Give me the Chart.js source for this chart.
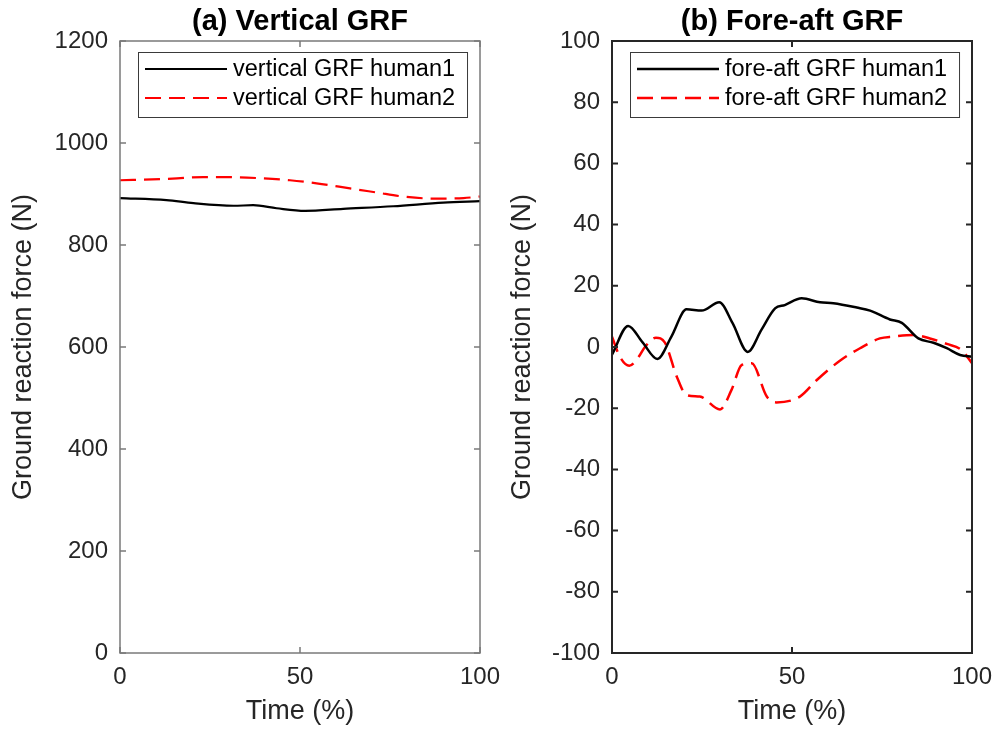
<!DOCTYPE html>
<html>
<head>
<meta charset="utf-8" />
<title>GRF</title>
<style>
  body { margin: 0; background: #fff; }
  #wrap { position: relative; width: 998px; height: 732px; overflow: hidden; }
  canvas { position: absolute; top: 0; }
  #chartA { left: 0; }
  #chartB { left: 499px; }
</style>
</head>
<body>
<div id="wrap">
  <canvas id="chartA" width="520" height="732"></canvas>
  <canvas id="chartB" width="520" height="732"></canvas>
</div>

<script src="https://cdn.jsdelivr.net/npm/chart.js"></script>
<script>
// ---- data ----
// (a) vertical GRF
var timeVert1 = [0, 12.9, 20.4, 31.5, 37, 43.5, 51.4, 62, 75.9, 89.8, 100];
var vertHuman1 = [892, 888, 882, 877, 878, 872, 867, 871, 876, 883, 886];
var timeVert2 = [0, 11.1, 23.1, 30.6, 38.9, 47.2, 54.6, 63.9, 71.3, 78.7, 87, 95.4, 100];
var vertHuman2 = [927, 929, 933, 933, 931, 927, 921, 911, 903, 895, 891, 892, 895];

// (b) fore-aft GRF
var timeFore1 = [0, 4.5, 8.5, 12.6, 16.5, 20.7, 24.9, 29.8, 33.5, 37.7, 41.5, 45.3, 48, 52.7, 57.8, 61.5, 68, 71.7, 77.2, 80.5, 85.1, 89.3, 93, 96.7, 100];
var foreHuman1 = [-2.5, 6.9, 1.5, -3.9, 3.4, 12.3, 11.9, 14.6, 7.8, -1.6, 5.6, 12.6, 13.7, 15.9, 14.6, 14.3, 12.9, 11.9, 9.0, 7.9, 2.8, 1.4, -0.4, -2.6, -3.2];
var timeFore2 = [0, 2.2, 4.8, 7.3, 9.2, 12.2, 14.7, 18, 20.7, 24.4, 30, 33.2, 36, 38.8, 43, 45.7, 52.2, 56.9, 63.3, 68.9, 74.4, 78.1, 83.7, 88.3, 93, 97.1, 100];
var foreHuman2 = [3.4, -3.2, -6.1, -3.4, 0.1, 3.0, 1.4, -9.7, -15.7, -16.2, -20.4, -14, -5.9, -5.3, -16.2, -18.1, -16.2, -10.8, -4.5, -0.4, 2.8, 3.4, 3.9, 2.8, 1.0, -1.0, -5.3];

var xTicks = [0, 50, 100];
var vertTicks = [0, 200, 400, 600, 800, 1000, 1200];
var foreTicks = [-100, -80, -60, -40, -20, 0, 20, 40, 60, 80, 100];

var FONT = '"Liberation Sans", Arial, sans-serif';

function toPoints(xs, ys) {
    return xs.map(function (x, i) { return { x: x, y: ys[i] }; });
}

// draws the matlab-like box, inward ticks, title and legend
var matlabBox = {
    id: 'matlabBox',
    afterDatasetsDraw: function (chart, args, opts) {
        var ctx = chart.ctx;
        var a = chart.chartArea;
        var L = 6;
        ctx.save();

        // inward ticks
        ctx.strokeStyle = opts.axisColor;
        ctx.lineWidth = opts.axisWidth;
        ctx.beginPath();
        chart.scales.x.ticks.forEach(function (t) {
            var px = chart.scales.x.getPixelForValue(t.value);
            ctx.moveTo(px, a.bottom); ctx.lineTo(px, a.bottom - L);
            ctx.moveTo(px, a.top); ctx.lineTo(px, a.top + L);
        });
        chart.scales.y.ticks.forEach(function (t) {
            var py = chart.scales.y.getPixelForValue(t.value);
            ctx.moveTo(a.left, py); ctx.lineTo(a.left + L, py);
            ctx.moveTo(a.right, py); ctx.lineTo(a.right - L, py);
        });
        ctx.stroke();
        ctx.strokeRect(a.left, a.top, a.right - a.left, a.bottom - a.top);

        // title
        ctx.fillStyle = '#000';
        ctx.font = 'bold 29px ' + FONT;
        ctx.textAlign = 'center';
        ctx.textBaseline = 'middle';
        ctx.fillText(opts.title, (a.left + a.right) / 2, 22);

        // legend
        var sets = chart.data.datasets;
        ctx.font = '23.5px ' + FONT;
        var tw = 0;
        sets.forEach(function (d) { tw = Math.max(tw, ctx.measureText(d.label).width); });
        var bx = a.left + 18, by = a.top + 11;
        var bw = 7 + 82 + 6 + tw + 12, bh = 65;
        ctx.fillStyle = '#fff';
        ctx.fillRect(bx, by, bw, bh);
        ctx.strokeStyle = '#3a3a3a';
        ctx.lineWidth = 1;
        ctx.strokeRect(bx + 0.5, by + 0.5, bw, bh);
        ctx.textAlign = 'left';
        sets.forEach(function (d, i) {
            var yy = by + 17 + i * 29;
            ctx.strokeStyle = d.borderColor;
            ctx.lineWidth = d.borderWidth;
            ctx.setLineDash(d.borderDash || []);
            ctx.beginPath();
            ctx.moveTo(bx + 7, yy);
            ctx.lineTo(bx + 89, yy);
            ctx.stroke();
            ctx.setLineDash([]);
            ctx.fillStyle = '#000';
            ctx.fillText(d.label, bx + 95, yy + 1);
        });
        ctx.restore();
    }
};

function makeChart(id, cfg) {
    var ctx = document.getElementById(id).getContext('2d');
    return new Chart(ctx, {
        type: 'line',
        data: {
            datasets: [{
                label: cfg.labels[0],
                data: toPoints(cfg.t1, cfg.v1),
                borderColor: '#000000',
                borderWidth: cfg.lineWidth,
                pointRadius: 0,
                cubicInterpolationMode: 'monotone',
                fill: false
            }, {
                label: cfg.labels[1],
                data: toPoints(cfg.t2, cfg.v2),
                borderColor: '#ff0000',
                borderWidth: cfg.lineWidth,
                borderDash: [16, 8],
                pointRadius: 0,
                cubicInterpolationMode: 'monotone',
                fill: false
            }]
        },
        options: {
            responsive: false,
            animation: false,
            devicePixelRatio: 1,
            layout: { padding: { top: 41, right: cfg.padRight, bottom: 0, left: 0 } },
            plugins: {
                legend: { display: false },
                tooltip: { enabled: false },
                matlabBox: { title: cfg.title, axisColor: cfg.axisColor, axisWidth: cfg.axisWidth }
            },
            scales: {
                x: {
                    type: 'linear',
                    min: 0,
                    max: 100,
                    afterBuildTicks: function (s) { s.ticks = xTicks.map(function (v) { return { value: v }; }); },
                    afterFit: function (s) { s.height = 79; },
                    grid: { display: false, drawTicks: false },
                    border: { display: false },
                    ticks: {
                        color: '#262626', font: { family: FONT, size: 24 }, padding: 10, maxRotation: 0,
                        callback: function (v) { return String(v); }
                    },
                    title: { display: true, text: 'Time (%)', color: '#262626', font: { family: FONT, size: 27 }, padding: { top: 7, bottom: 4 } }
                },
                y: {
                    type: 'linear',
                    min: cfg.yTicks[0],
                    max: cfg.yTicks[cfg.yTicks.length - 1],
                    afterBuildTicks: function (s) { s.ticks = cfg.yTicks.map(function (v) { return { value: v }; }); },
                    afterFit: function (s) { s.width = cfg.yWidth; },
                    grid: { display: false, drawTicks: false },
                    border: { display: false },
                    ticks: {
                        color: '#262626', font: { family: FONT, size: 24 }, padding: 12,
                        callback: function (v) { return String(v); }
                    },
                    title: { display: true, text: 'Ground reaction force (N)', color: '#262626', font: { family: FONT, size: 27 }, padding: { top: 7, bottom: 7 } }
                }
            }
        },
        plugins: [matlabBox]
    });
}

makeChart('chartA', {
    title: '(a) Vertical GRF',
    labels: ['vertical GRF human1', 'vertical GRF human2'],
    t1: timeVert1, v1: vertHuman1, t2: timeVert2, v2: vertHuman2,
    yTicks: vertTicks, yWidth: 120, padRight: 40,
    axisColor: '#7a7a7a', axisWidth: 1.5, lineWidth: 2.2
});

makeChart('chartB', {
    title: '(b) Fore-aft GRF',
    labels: ['fore-aft GRF human1', 'fore-aft GRF human2'],
    t1: timeFore1, v1: foreHuman1, t2: timeFore2, v2: foreHuman2,
    yTicks: foreTicks, yWidth: 113, padRight: 47,
    axisColor: '#262626', axisWidth: 2, lineWidth: 2.5
});
</script>
</body>
</html>
